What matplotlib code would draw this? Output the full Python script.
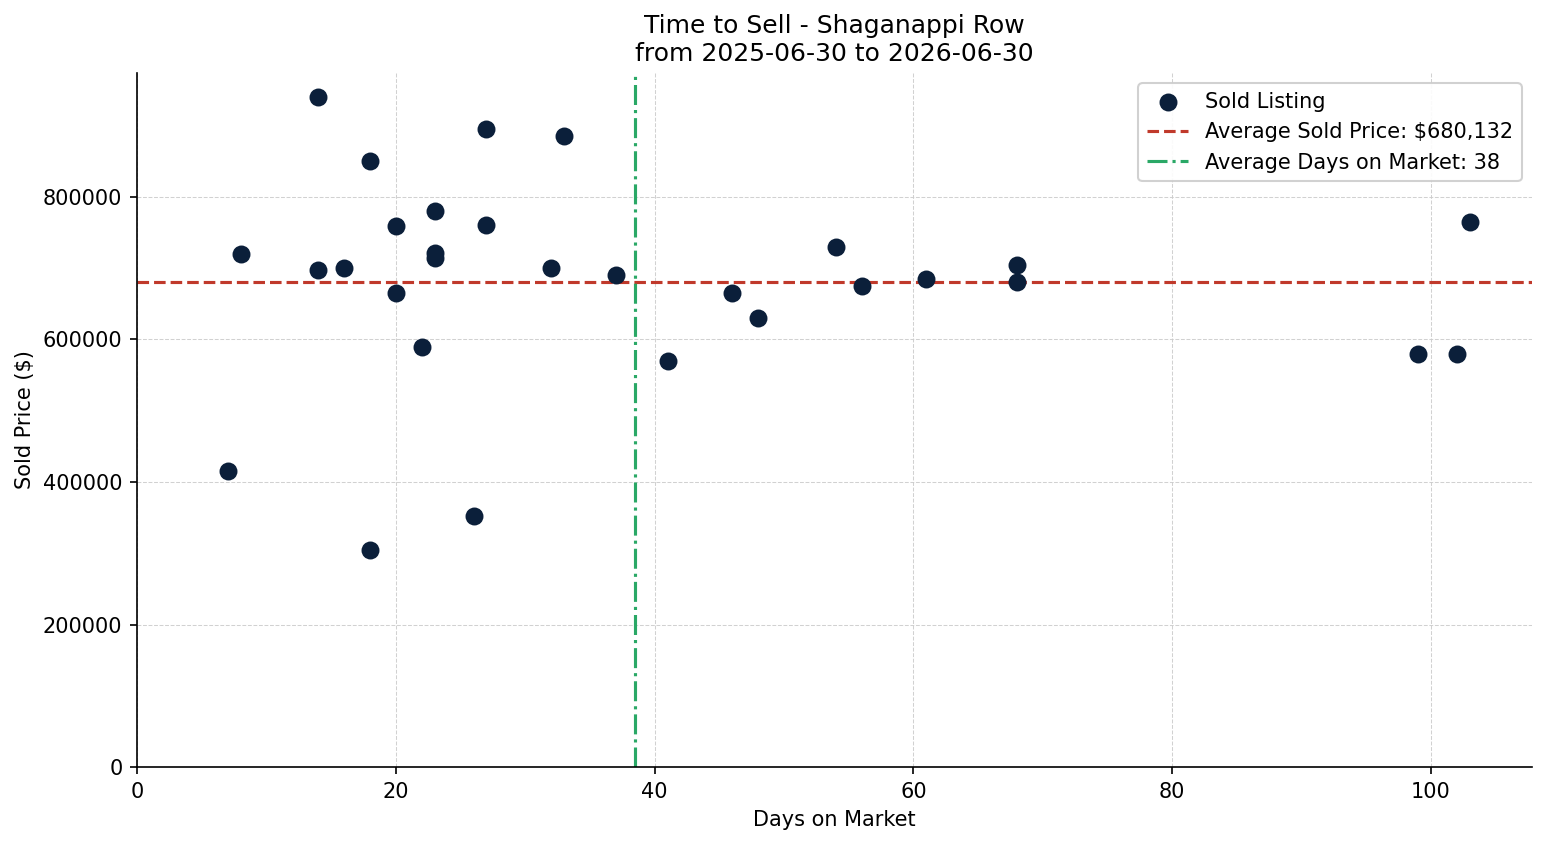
import matplotlib
matplotlib.use("Agg")
import matplotlib.pyplot as plt
import numpy as np

days = [7, 8, 14, 14, 16, 18, 18, 20, 20, 22, 23, 23, 23, 26, 27, 27, 32, 33, 37,
        41, 46, 48, 54, 56, 61, 68, 68, 99, 102, 103]
prices = [415000, 720000, 940000, 697000, 700000, 850000, 305000, 759000, 665000,
          590000, 780000, 722000, 715000, 352000, 895000, 760000, 700000, 885000,
          690000, 570000, 665000, 630000, 730000, 675000, 685000, 705000, 680000,
          580000, 580000, 765000]
avg_price = 680132
avg_days = float(np.mean(days))

plt.rcParams['font.family'] = ['DejaVu Sans']
plt.rcParams['font.size'] = 10

DPI = 150
fig = plt.figure(figsize=(1547 / DPI, 845 / DPI), dpi=DPI)
ax = fig.add_axes([0.0886, 0.0923, 0.9017, 0.8213])

ax.scatter(days, prices, s=58, color='#0b1f3a', label='Sold Listing', zorder=3)
ax.axhline(avg_price, color='#c0392b', linestyle='--', linewidth=1.5,
           label=f'Average Sold Price: ${avg_price:,.0f}', zorder=2)
ax.axvline(avg_days, color='#2aa866', linestyle='-.', linewidth=1.5,
           label=f'Average Days on Market: {int(avg_days)}', zorder=2)

ax.set_xlim(0, 107.8)
ax.set_ylim(0, 974000)
ax.set_xticks([0, 20, 40, 60, 80, 100])
ax.set_yticks([0, 200000, 400000, 600000, 800000])
ax.ticklabel_format(style='plain', axis='y')
ax.grid(True, linestyle='--', linewidth=0.5, color='#cccccc', alpha=0.9)
ax.set_axisbelow(True)
for s in ['top', 'right']:
    ax.spines[s].set_visible(False)

ax.set_xlabel('Days on Market')
ax.set_ylabel('Sold Price ($)')
ax.set_title('Time to Sell - Shaganappi Row\nfrom 2025-06-30 to 2026-06-30', fontsize=12)
ax.legend(loc='upper right', framealpha=0.9)

fig.savefig('out.png', dpi=DPI)
